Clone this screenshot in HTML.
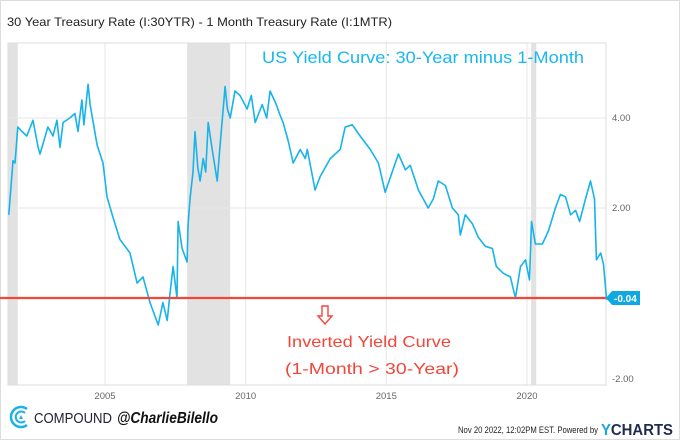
<!DOCTYPE html>
<html><head><meta charset="utf-8"><style>
body{margin:0;background:#fff;}
#wrap{position:relative;width:680px;height:440px;overflow:hidden;font-family:"Liberation Sans",sans-serif;}
</style></head><body>
<div id="wrap">
<svg id="chart" width="680" height="440">
<rect x="0.5" y="0.5" width="679" height="439" fill="#fff" stroke="#ddd"/>
<text x="7" y="26" font-size="12" fill="#222" textLength="385" lengthAdjust="spacingAndGlyphs">30 Year Treasury Rate (I:30YTR) - 1 Month Treasury Rate (I:1MTR)</text>
<g id="rec"></g>
<g id="grid"></g>
<rect x="8" y="43" width="598" height="342" fill="none" stroke="#ddd"/>
<g id="ylab"></g>
<g id="xlab"></g>
<text x="262" y="63" font-size="17" fill="#19b8ec" textLength="322" lengthAdjust="spacingAndGlyphs">US Yield Curve: 30-Year minus 1-Month</text>
<path id="line" fill="none" stroke="#17b3ea" stroke-width="1.6" stroke-linejoin="round"/>
<line x1="0" x2="606" y1="298" y2="298" stroke="#f2463b" stroke-width="2.2"/>
<g>
<path d="M606 298 L612 291 L640 291 L640 305 L612 305 Z" fill="#0fa8e0"/>
<text x="614" y="302" font-size="10" font-weight="bold" fill="#fff">-0.04</text>
</g>
<path d="M322 306 h6 v10 h4 l-7 8 l-7 -8 h4 z" fill="none" stroke="#f2463b" stroke-width="1.4"/>
<text x="287" y="347" font-size="16" fill="#f2463b" textLength="164" lengthAdjust="spacingAndGlyphs">Inverted Yield Curve</text>
<text x="285" y="374" font-size="16" fill="#f2463b" textLength="174" lengthAdjust="spacingAndGlyphs">(1-Month &gt; 30-Year)</text>
<g>
<path d="M27 409 A10 10 0 1 0 27 425" fill="none" stroke="#1ab0e8" stroke-width="2.5"/>
<path d="M25 413 A5.5 5.5 0 1 0 25 421" fill="none" stroke="#1ab0e8" stroke-width="2"/>
<path d="M19 419 L21 415 L23 419 Z" fill="#1ab0e8"/>
</g>
<text x="34" y="423" font-size="15" fill="#223" textLength="78" lengthAdjust="spacingAndGlyphs">COMPOUND</text>
<text x="117" y="423" font-size="16" font-style="italic" font-weight="bold" fill="#111" textLength="101" lengthAdjust="spacingAndGlyphs">@CharlieBilello</text>
<text x="458" y="433" font-size="9" fill="#222" textLength="140" lengthAdjust="spacingAndGlyphs">Nov 20 2022, 12:02PM EST.  Powered by</text>
<text x="601" y="435" font-size="16" font-weight="bold" fill="#1f2d4d" textLength="72" lengthAdjust="spacingAndGlyphs"><tspan fill="#19a8e0">Y</tspan>CHARTS</text>
</svg>
</div>
<script>
const years=[2001.58,2001.73,2001.80,2001.90,2002.05,2002.22,2002.44,2002.62,2002.69,2002.97,2003.15,2003.29,2003.40,2003.51,2003.75,2003.93,2004.04,2004.18,2004.25,2004.40,2004.47,2004.72,2004.93,2005.07,2005.28,2005.53,2005.89,2006.14,2006.35,2006.60,2006.89,2007.06,2007.21,2007.31,2007.42,2007.56,2007.60,2007.74,2007.92,2007.95,2008.02,2008.13,2008.20,2008.30,2008.38,2008.49,2008.58,2008.67,2008.81,2008.99,2009.09,2009.27,2009.35,2009.45,2009.62,2009.80,2010.05,2010.20,2010.34,2010.59,2010.75,2010.87,2011.09,2011.20,2011.33,2011.51,2011.69,2011.94,2012.12,2012.19,2012.47,2012.65,2013.01,2013.36,2013.54,2013.79,2014.07,2014.43,2014.72,2014.96,2015.21,2015.43,2015.68,2015.85,2016.14,2016.49,2016.67,2016.85,2017.10,2017.35,2017.56,2017.63,2017.81,2018.06,2018.27,2018.52,2018.77,2018.91,2019.16,2019.41,2019.59,2019.77,2019.95,2020.09,2020.16,2020.30,2020.55,2020.77,2021.01,2021.19,2021.37,2021.55,2021.73,2021.87,2022.08,2022.26,2022.40,2022.47,2022.62,2022.72,2022.83];
const spread=[1.85,3.05,3.0,3.8,3.7,3.6,3.95,3.35,3.2,3.8,3.6,3.95,3.35,3.9,4.0,4.1,3.7,4.4,3.85,4.75,4.3,3.4,3.0,2.25,1.8,1.3,1.0,0.33,0.47,-0.1,-0.6,-0.1,-0.5,0.1,0.7,0.0,1.7,1.1,0.8,1.6,2.2,2.8,3.7,2.9,2.6,3.1,2.8,3.9,3.3,2.6,3.4,4.7,4.2,4.0,4.6,4.5,4.2,4.5,3.9,4.3,4.0,4.6,4.3,4.1,3.9,3.5,3.0,3.3,3.1,3.3,2.4,2.7,3.1,3.3,3.8,3.85,3.6,3.3,3.0,2.35,2.8,3.2,2.85,2.95,2.4,2.0,2.2,2.6,2.5,2.0,1.85,1.4,1.85,1.65,1.35,1.15,1.1,0.7,0.55,0.47,0.0,0.7,0.85,0.4,1.7,1.2,1.2,1.5,2.0,2.3,2.25,1.85,1.95,1.7,2.2,2.6,2.2,0.85,1.0,0.75,-0.04];
const yTicks=[4,2,0,-2];
const yTickLabels=["4.00","2.00","0.00","-2.00"];
const xTicks=[2005,2010,2015,2020];
const recessions=[[2001.2,2001.9],[2007.92,2009.45],[2020.15,2020.33]];
const NS='http://www.w3.org/2000/svg';
const xs=y=>105+(y-2005)*28.13;
const ys=v=>298-45*v;
function mk(t,a,p){const e=document.createElementNS(NS,t);for(const k in a)e.setAttribute(k,a[k]);p.appendChild(e);return e;}
const rec=document.getElementById('rec');
recessions.forEach(r=>{const x1=Math.max(8,xs(r[0]));const e=mk('rect',{x:x1,y:43,width:xs(r[1])-x1,height:342,fill:'#e2e2e2'},rec);

});
const grid=document.getElementById('grid'),yl=document.getElementById('ylab'),xl=document.getElementById('xlab');
yTicks.forEach((v,i)=>{if(v>-2){const g=mk('line',{x1:8,x2:606,y1:ys(v),y2:ys(v),stroke:'#e6e6e6'},grid);

}
const t=mk('text',{x:612,y:v===-2?382:ys(v)+3,'font-size':9.5,fill:'#666'},yl);t.textContent=yTickLabels[i];

});
xTicks.forEach(y=>{const g=mk('line',{x1:xs(y),x2:xs(y),y1:43,y2:385,stroke:'#e6e6e6'},grid);


const t=mk('text',{x:xs(y),y:399,'font-size':9.5,fill:'#666','text-anchor':'middle'},xl);t.textContent=y;

});
document.getElementById('line').setAttribute('d',years.map((y,i)=>(i?'L':'M')+xs(y).toFixed(1)+' '+ys(spread[i]).toFixed(1)).join(' '));
</script>
</body></html>
